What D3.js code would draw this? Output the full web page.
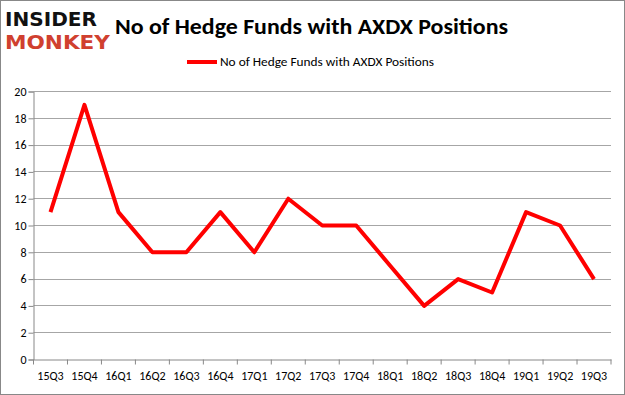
<!DOCTYPE html>
<html>
<head>
<meta charset="utf-8">
<script src="https://cdn.jsdelivr.net/npm/d3@7"></script>
<style>
  body { margin: 0; background: #fff; }
  svg { display: block; font-family: Calibri, Carlito, "Liberation Sans", "DejaVu Sans", sans-serif; }
</style>
</head>
<body>
<div id="wrapper"></div>
<script>
// data
const quarters = ["15Q3", "15Q4", "16Q1", "16Q2", "16Q3", "16Q4", "17Q1", "17Q2", "17Q3",
  "17Q4", "18Q1", "18Q2", "18Q3", "18Q4", "19Q1", "19Q2", "19Q3"]
const fundCounts = [11, 19, 11, 8, 8, 11, 8, 12, 10, 10, 7, 4, 6, 5, 11, 10, 6]
const yTicks = [0, 2, 4, 6, 8, 10, 12, 14, 16, 18, 20]
const seriesName = "No of Hedge Funds with AXDX Positions"

const width = 625
const height = 395
const margin = { top: 91.5, right: 14, bottom: 35.5, left: 33.5 }
const boundedWidth = width - margin.left - margin.right
const boundedHeight = height - margin.top - margin.bottom

const svg = d3.select("#wrapper").append("svg")
    .attr("width", width)
    .attr("height", height)

// outer border
svg.append("rect")
    .attr("x", 0.5).attr("y", 0.5)
    .attr("width", width - 1).attr("height", height - 1)
    .attr("fill", "#fff")
    .attr("stroke", "#888")

// logo
svg.append("text")
    .attr("x", 5).attr("y", 26)
    .attr("font-family", "'DejaVu Sans', sans-serif")
    .attr("font-weight", "bold")
    .attr("font-size", 20)
    .attr("textLength", 92)
    .attr("lengthAdjust", "spacingAndGlyphs")
    .attr("fill", "#111")
    .text("INSIDER")
svg.append("text")
    .attr("x", 5).attr("y", 49)
    .attr("font-family", "'DejaVu Sans', sans-serif")
    .attr("font-weight", "bold")
    .attr("font-size", 20)
    .attr("textLength", 105)
    .attr("lengthAdjust", "spacingAndGlyphs")
    .attr("fill", "#d0402f")
    .text("MONKEY")

// title
svg.append("text")
    .attr("x", 115).attr("y", 34)
    .attr("font-size", 22)
    .attr("font-weight", "bold")
    .attr("textLength", 393)
    .attr("lengthAdjust", "spacingAndGlyphs")
    .attr("fill", "#000")
    .text(seriesName)

// legend
svg.append("line")
    .attr("x1", 187).attr("x2", 217)
    .attr("y1", 62).attr("y2", 62)
    .attr("stroke", "#ff0000")
    .attr("stroke-width", 4)
svg.append("text")
    .attr("x", 220).attr("y", 66)
    .attr("font-size", 12)
    .attr("textLength", 214)
    .attr("lengthAdjust", "spacingAndGlyphs")
    .attr("fill", "#000")
    .text(seriesName)

const bounds = svg.append("g")
    .attr("transform", `translate(${margin.left}, ${margin.top})`)

// scales
const xScale = d3.scaleBand()
    .domain(quarters)
    .range([0, boundedWidth])
const yScale = d3.scaleLinear()
    .domain([0, 20])
    .range([boundedHeight, 0])

// gridlines
bounds.append("g")
  .selectAll("line")
  .data(yTicks.filter(d => d > 0))
  .join("line")
    .attr("x1", 0).attr("x2", boundedWidth)
    .attr("y1", d => Math.round(yScale(d)))
    .attr("y2", d => Math.round(yScale(d)))
    .attr("stroke", "#a6a6a6")
    .attr("stroke-width", 1)

// y axis
const yAxis = bounds.append("g")
    .call(d3.axisLeft(yScale).tickValues(yTicks).tickSize(5).tickPadding(2))
yAxis.select(".domain").attr("stroke", "#888")
yAxis.selectAll(".tick line").attr("stroke", "#888")
yAxis.selectAll("text")
    .attr("font-size", 12)
    .attr("font-family", "Calibri, Carlito, 'Liberation Sans', sans-serif")
    .attr("fill", "#000")

// x axis
const xAxis = bounds.append("g")
    .attr("transform", `translate(0, ${boundedHeight})`)
    .call(d3.axisBottom(xScale).tickSize(0).tickPadding(12))
xAxis.select(".domain").attr("stroke", "#888")
xAxis.selectAll("text")
    .attr("font-size", 12)
    .attr("font-family", "Calibri, Carlito, 'Liberation Sans', sans-serif")
    .attr("fill", "#000")
// category boundary ticks
xAxis.append("g")
  .selectAll("line")
  .data(d3.range(quarters.length + 1))
  .join("line")
    .attr("x1", i => i * xScale.step())
    .attr("x2", i => i * xScale.step())
    .attr("y1", 0).attr("y2", 5)
    .attr("stroke", "#888")

// line
const lineGenerator = d3.line()
    .x((d, i) => xScale(quarters[i]) + xScale.bandwidth() / 2)
    .y(d => yScale(d))

bounds.append("path")
    .datum(fundCounts)
    .attr("d", lineGenerator)
    .attr("fill", "none")
    .attr("stroke", "#ff0000")
    .attr("stroke-width", 4)
    .attr("stroke-linejoin", "round")
</script>
</body>
</html>
